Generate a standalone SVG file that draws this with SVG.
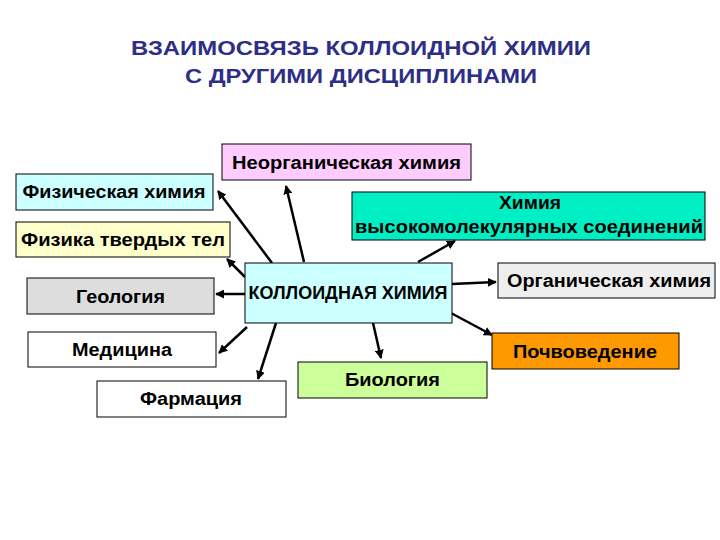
<svg xmlns="http://www.w3.org/2000/svg" width="720" height="540" viewBox="0 0 720 540">
<style>
.box{stroke:#000;stroke-width:1}
.t{font-family:"Liberation Sans",Arial,sans-serif;font-weight:bold;font-size:18px;fill:#000}
.title{font-family:"Liberation Sans",Arial,sans-serif;font-weight:bold;font-size:21px;fill:#2E2E86}
.c{stroke:#000;stroke-width:2.5;fill:none;marker-end:url(#ah)}
</style>
<defs>
<marker id="ah" viewBox="0 0 10 10" refX="9" refY="5" markerWidth="3.6" markerHeight="3.6" orient="auto" markerUnits="strokeWidth">
<path d="M0,0 L10,5 L0,10 z" fill="#000"/>
</marker>
</defs>
<rect width="720" height="540" fill="#fff"/>
<g id="title">
<text class="title" x="361" y="55" text-anchor="middle" textLength="460" lengthAdjust="spacingAndGlyphs">ВЗАИМОСВЯЗЬ КОЛЛОИДНОЙ ХИМИИ</text>
<text class="title" x="361" y="83" text-anchor="middle" textLength="352" lengthAdjust="spacingAndGlyphs">С ДРУГИМИ ДИСЦИПЛИНАМИ</text>
</g>
<g id="connectors">
<line class="c" x1="272" y1="263" x2="218" y2="191"/>
<line class="c" x1="245" y1="277" x2="227" y2="259"/>
<line class="c" x1="304" y1="262" x2="286" y2="186"/>
<line class="c" x1="245" y1="294" x2="216" y2="294"/>
<line class="c" x1="418" y1="262" x2="455" y2="241"/>
<line class="c" x1="452" y1="284" x2="496" y2="282"/>
<line class="c" x1="451" y1="313" x2="492" y2="335"/>
<line class="c" x1="373" y1="323" x2="381" y2="358"/>
<line class="c" x1="276" y1="323" x2="258" y2="379"/>
<line class="c" x1="247" y1="327" x2="219" y2="353"/>
</g>
<g id="inorganic">
<rect class="box" x="222" y="144" width="249" height="36" fill="#FFCCFF"/>
<text class="t" x="346.5" y="168.5" text-anchor="middle" textLength="229" lengthAdjust="spacingAndGlyphs">Неорганическая химия</text>
</g>
<g id="physchem">
<rect class="box" x="16" y="174" width="197" height="36" fill="#CCFFFF"/>
<text class="t" x="114" y="198" text-anchor="middle" textLength="183" lengthAdjust="spacingAndGlyphs">Физическая химия</text>
</g>
<g id="solidstate">
<rect class="box" x="16" y="222" width="214" height="35" fill="#FFFFCC"/>
<text class="t" x="123" y="246" text-anchor="middle" textLength="204" lengthAdjust="spacingAndGlyphs">Физика твердых тел</text>
</g>
<g id="geology">
<rect class="box" x="27" y="278" width="187" height="36" fill="#DDDDDD"/>
<text class="t" x="120.5" y="302.5" text-anchor="middle" textLength="89" lengthAdjust="spacingAndGlyphs">Геология</text>
</g>
<g id="colloid">
<rect class="box" x="245" y="263" width="207" height="60" fill="#CCFFFF"/>
<text class="t" x="348" y="299" text-anchor="middle" textLength="199" lengthAdjust="spacingAndGlyphs">КОЛЛОИДНАЯ ХИМИЯ</text>
</g>
<g id="polymers">
<rect class="box" x="352" y="192" width="353" height="48" fill="#00EEC4"/>
<text class="t" x="530" y="209" text-anchor="middle" textLength="62" lengthAdjust="spacingAndGlyphs">Химия</text>
<text class="t" x="529" y="233" text-anchor="middle" textLength="348" lengthAdjust="spacingAndGlyphs">высокомолекулярных соединений</text>
</g>
<g id="organic">
<rect class="box" x="498" y="263" width="217" height="35" fill="#EEEEEE"/>
<text class="t" x="609" y="287" text-anchor="middle" textLength="204" lengthAdjust="spacingAndGlyphs">Органическая химия</text>
</g>
<g id="medicine">
<rect class="box" x="28" y="332" width="188" height="35" fill="#FFFFFF"/>
<text class="t" x="122" y="356" text-anchor="middle" textLength="100" lengthAdjust="spacingAndGlyphs">Медицина</text>
</g>
<g id="pharmacy">
<rect class="box" x="97" y="381" width="189" height="36" fill="#FFFFFF"/>
<text class="t" x="191" y="405" text-anchor="middle" textLength="102" lengthAdjust="spacingAndGlyphs">Фармация</text>
</g>
<g id="biology">
<rect class="box" x="298" y="362" width="189" height="36" fill="#CCFF99"/>
<text class="t" x="392.5" y="385.5" text-anchor="middle" textLength="95" lengthAdjust="spacingAndGlyphs">Биология</text>
</g>
<g id="soil">
<rect class="box" x="492" y="333" width="187" height="36" fill="#FF9900"/>
<text class="t" x="585" y="358" text-anchor="middle" textLength="144" lengthAdjust="spacingAndGlyphs">Почвоведение</text>
</g>
</svg>
